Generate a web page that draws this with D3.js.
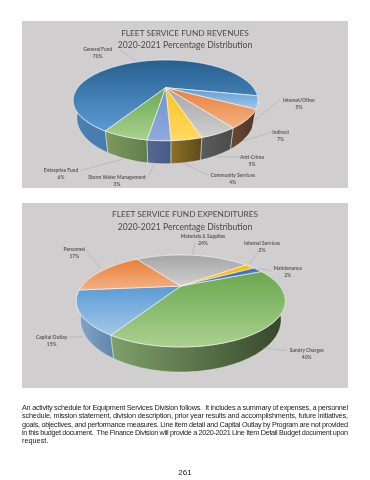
<!DOCTYPE html>
<html>
<head>
<meta charset="utf-8">
<script src="https://cdn.jsdelivr.net/npm/d3@7"></script>
<style>
  html, body { margin: 0; padding: 0; background: #fff; }
  svg { display: block; filter: blur(0.3px); }
</style>
</head>
<body>
<div id="page"></div>
<script>
// revenues chart
const revCategories = ["General Fund", "Interest/Other", "Indirect", "Anti-Crime", "Community Services", "Storm Water Management", "Enterprise Fund"];
const revValues = [70, 5, 7, 5, 4, 3, 6];
// expenditures chart
const expCategories = ["Sundry Charges", "Capital Outlay", "Personnel", "Materials & Supplies", "Internal Services", "Maintenance"];
const expValues = [40, 15, 17, 24, 2, 2];

const revTop = [["#27608f", "#5b9bd5"], ["#5b9bd5", "#a3c7e8"], ["#e97f3a", "#f4b183"], ["#a5a5a5", "#cfcfcf"], ["#fcc419", "#ffd966"], ["#7193d0", "#8faadc"], ["#6aa84f", "#a9d18e"]];
const revSide = [["#4a80b2", "#3b6c99"], ["#6d8fb0", "#4f7394"], ["#694b33", "#503527"], ["#5c5c5c", "#4a4a4a"], ["#8f7122", "#5d4b1b"], ["#56698f", "#465a85"], ["#7f9a5f", "#5f7d4d"]];
const expTop = [["#6aa84f", "#a9d18e"], ["#5b9bd5", "#a3c7e8"], ["#e97f3a", "#f4b183"], ["#a5a5a5", "#cfcfcf"], ["#ffc000", "#ffc000"], ["#4472c4", "#4472c4"]];
const expSide = [["#80a06a", "#35462a"], ["#85a6ca", "#5f86ac"], ["#a05a25", "#a05a25"], ["#777", "#777"], ["#a67c00", "#a67c00"], ["#2f528f", "#2f528f"]];

const pieConfigs = [
  { id: "rev", values: revValues, top: revTop, side: revSide, cx: 165.6, cy: 87.7, X: 87.8, Y: 36.4, k: 0.3135, D: 15.8, start: 120 },
  { id: "exp", values: expValues, top: expTop, side: expSide, cx: 180.8, cy: 286, X: 98.8, Y: 41.1, k: 0.326, D: 16.9, start: -23.4 }
];

const panels = [
  { x: 22, y: 21, w: 326, h: 167, title: ["FLEET SERVICE FUND REVENUES", "2020-2021 Percentage Distribution"], tx: 185, ty: [35.5, 47.5], size: [8.3, 8.6] },
  { x: 22, y: 203, w: 326, h: 185, title: ["FLEET SERVICE FUND EXPENDITURES", "2020-2021 Percentage Distribution"], tx: 185, ty: [217, 230], size: [8.3, 8.6] }
];

// label centre, leader line from label to pie
const revLabels = [
  { x: 97.7, y: 49, leader: [[120, 50], [136.7, 61]] },
  { x: 299, y: 100, leader: [[280, 100], [255, 120]] },
  { x: 280.7, y: 132, leader: [[271.7, 132], [243, 141]] },
  { x: 252, y: 157, leader: [[240, 157], [217, 156.7]] },
  { x: 232.7, y: 175.3, leader: [[208, 175], [183, 163]] },
  { x: 117, y: 177, leader: [[148, 177], [155, 163]] },
  { x: 61, y: 170, leader: [[80, 170.7], [123, 159]] }
];
const expLabels = [
  { x: 306.7, y: 350, leader: [[287, 350.7], [263, 348]] },
  { x: 51.7, y: 336.7, leader: [[70, 337], [83, 336.7]] },
  { x: 74.3, y: 249, leader: [[86, 250], [101, 269]] },
  { x: 203, y: 236, leader: [[195, 243], [192, 255]] },
  { x: 262, y: 243, leader: [[259, 250], [250, 264]] },
  { x: 287.7, y: 268, leader: [[271.7, 270.7], [259, 268.3]] }
];

const paragraph = [
  "An activity schedule for Equipment Services Division follows.  It includes a summary of expenses, a personnel",
  "schedule, mission statement, division description, prior year results and accomplishments, future initiatives,",
  "goals, objectives, and performance measures. Line item detail and Capital Outlay by Program are not provided",
  "in this budget document.  The Finance Division will provide a 2020-2021 Line Item Detail Budget document upon",
  "request."
];
const pageNumber = "261";

const svg = d3.select("#page").append("svg").attr("width", 370).attr("height", 480);
const defs = svg.append("defs");
const lineGen = d3.line().x(d => d[0]).y(d => d[1]);
const rad = d => d * Math.PI / 180;

panels.forEach(p => {
  svg.append("rect").attr("x", p.x).attr("y", p.y).attr("width", p.w).attr("height", p.h).attr("fill", "#d0cece");
  p.title.forEach((t, i) => {
    svg.append("text").attr("x", p.tx).attr("y", p.ty[i]).attr("text-anchor", "middle")
      .attr("font-family", "Lato").attr("font-size", p.size[i]).attr("fill", "#4a4a4a").text(t);
  });
});

function project(c, t, lower) {
  const w = 1 - c.k * Math.sin(t);
  const shrink = lower ? 0.96 : 1;
  return [
    c.cx + shrink * c.X * Math.cos(t) / w,
    c.cy + c.Y * Math.sin(t) / w + (lower ? c.D / w : 0)
  ];
}

function rim(c, a, b, lower) {
  const n = Math.max(4, Math.ceil((b - a) / 0.03));
  return d3.range(n + 1).map(i => project(c, a + (b - a) * i / n, lower));
}

function gradient(id, colors, horizontal) {
  const g = defs.append("linearGradient").attr("id", id)
    .attr("x1", 0).attr("y1", 0).attr("x2", horizontal ? 1 : 0).attr("y2", horizontal ? 0 : 1);
  g.append("stop").attr("offset", 0).attr("stop-color", colors[0]);
  g.append("stop").attr("offset", 1).attr("stop-color", colors[1]);
}

pieConfigs.forEach(c => {
  const arcs = d3.pie().sort(null)
    .startAngle(rad(c.start)).endAngle(rad(c.start + 360))(c.values);
  arcs.forEach((d, i) => {
    gradient(c.id + "T" + i, c.top[i], false);
    gradient(c.id + "S" + i, c.side[i], true);
  });
  // side walls back to front, then the top faces cover what is hidden
  const order = arcs.map((d, i) => i).sort((a, b) =>
    Math.sin((arcs[a].startAngle + arcs[a].endAngle) / 2) - Math.sin((arcs[b].startAngle + arcs[b].endAngle) / 2));
  order.forEach(i => {
    const d = arcs[i];
    const pts = rim(c, d.startAngle, d.endAngle, false).concat(rim(c, d.startAngle, d.endAngle, true).reverse());
    svg.append("path").attr("d", lineGen(pts) + "Z").attr("fill", `url(#${c.id}S${i})`)
      .attr("stroke", "#e6e6e6").attr("stroke-width", 0.5);
  });
  arcs.forEach((d, i) => {
    const pts = [[c.cx, c.cy]].concat(rim(c, d.startAngle, d.endAngle, false));
    svg.append("path").attr("d", lineGen(pts) + "Z").attr("fill", `url(#${c.id}T${i})`)
      .attr("stroke", "#f2f2f2").attr("stroke-width", 0.7).attr("stroke-linejoin", "round");
  });
});

function drawLabels(cats, vals, labels) {
  labels.forEach((l, i) => {
    svg.append("path").attr("d", lineGen(l.leader)).attr("fill", "none").attr("stroke", "#a6a6a6").attr("stroke-width", 0.5);
    [cats[i], vals[i] + "%"].forEach((t, j) => {
      svg.append("text").attr("x", l.x).attr("y", l.y + 1.8 + j * 7).attr("text-anchor", "middle")
        .attr("font-family", "Lato").attr("font-size", 4.9).attr("font-weight", 700).attr("fill", "#5a5a5a").text(t);
    });
  });
}
drawLabels(revCategories, revValues, revLabels);
drawLabels(expCategories, expValues, expLabels);

paragraph.forEach((t, i) => {
  const line = svg.append("text").attr("x", 22).attr("y", 410 + i * 8.3)
    .attr("font-family", "Liberation Sans").attr("font-size", 7.3).attr("fill", "#222")
    .style("white-space", "pre").text(t);
  if (i < paragraph.length - 1) line.attr("textLength", 326).attr("lengthAdjust", "spacing");
});
svg.append("text").attr("x", 185).attr("y", 474.5).attr("text-anchor", "middle")
  .attr("font-family", "Liberation Sans").attr("font-size", 8).attr("fill", "#222").text(pageNumber);
</script>
</body>
</html>
